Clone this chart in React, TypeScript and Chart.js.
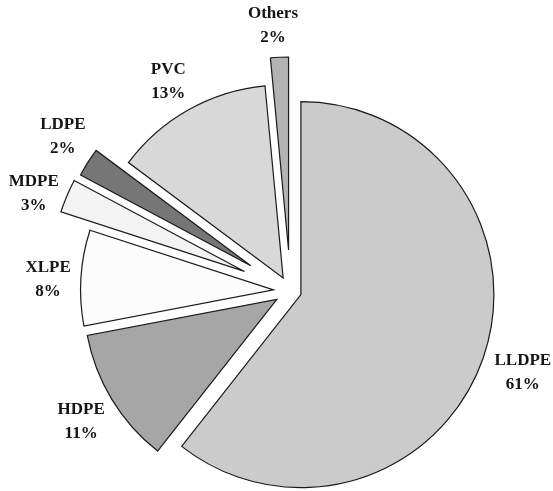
import React, { useEffect, useRef } from "react";
import { Chart, registerables } from "chart.js";

Chart.register(...registerables);

const categories = ["LLDPE", "HDPE", "XLPE", "MDPE", "LDPE", "PVC", "Others"];
// shares; labels show them rounded
const shares = [60.6, 11.4, 8.0, 2.8, 2.4, 13.3, 1.5];
const sliceColors = ["#cbcbcb", "#a6a6a6", "#fcfcfc", "#f3f3f3", "#767676", "#d8d8d8", "#b3b3b3"];
// outward explosion of each slice, in pixels
const explode = [11, 16, 17, 50, 47, 15, 41];
// small label tweaks: [angle in degrees, radial px]
const labelNudge = [
  [1, 0],
  [-1, 0],
  [-1, -5],
  [-2.5, -8],
  [2.3, -2],
  [-1.3, 0],
  [-1.2, -4],
];

const PIE_RADIUS = 193;
const LABEL_GAP = 15;
const FONT_PX = 17;
const LINE_GAP = 24;

const explodePlugin = {
  id: "explodeSlices",
  afterDatasetUpdate(chart: any, args: any) {
    const meta = args.meta;
    meta.data.forEach((arc: any, i: number) => {
      const mid = (arc.startAngle + arc.endAngle) / 2;
      const d = explode[i] || 0;
      arc.x = arc.x + Math.cos(mid) * d;
      arc.y = arc.y + Math.sin(mid) * d;
    });
  },
};

const labelPlugin = {
  id: "outerLabels",
  afterDatasetsDraw(chart: any) {
    const ctx = chart.ctx;
    const meta = chart.getDatasetMeta(0);
    ctx.save();
    ctx.fillStyle = "#151515";
    ctx.font = `bold ${FONT_PX}px 'Liberation Serif', 'Times New Roman', serif`;
    ctx.textAlign = "center";
    ctx.textBaseline = "middle";
    meta.data.forEach((arc: any, i: number) => {
      const [da, dr] = labelNudge[i] || [0, 0];
      const mid = (arc.startAngle + arc.endAngle) / 2 + (da * Math.PI) / 180;
      const l1 = categories[i];
      const l2 = Math.round(shares[i]) + "%";
      const w = Math.max(ctx.measureText(l1).width, ctx.measureText(l2).width);
      const h = LINE_GAP + FONT_PX;
      const r = arc.outerRadius + LABEL_GAP + dr;
      const cx = arc.x + Math.cos(mid) * (r + w / 2);
      const cy = arc.y + Math.sin(mid) * (r + h / 2);
      ctx.fillText(l1, cx, cy - LINE_GAP / 2);
      ctx.fillText(l2, cx, cy + LINE_GAP / 2);
    });
    ctx.restore();
  },
};

export default function App() {
  const ref = useRef<HTMLCanvasElement>(null);
  useEffect(() => {
    if (!ref.current) return;
    const chart = new Chart(ref.current, {
      type: "pie",
      data: {
        labels: categories,
        datasets: [
          {
            data: shares,
            backgroundColor: sliceColors,
            borderColor: "#1a1a1a",
            borderWidth: 1.2,
            borderJoinStyle: "miter",
            radius: PIE_RADIUS,
            clip: false,
          } as any,
        ],
      },
      options: {
        responsive: false,
        animation: false,
        layout: { padding: { left: 28, right: 0, top: 91, bottom: 0 } },
        plugins: {
          legend: { display: false },
          tooltip: { enabled: false },
        },
      },
      plugins: [explodePlugin, labelPlugin],
    });
    return () => chart.destroy();
  }, []);
  return (
    <div style={{ position: "fixed", left: 0, top: 0, width: 553, height: 491, background: "#fff" }}>
      <canvas ref={ref} width={553} height={491} style={{ display: "block" }} />
    </div>
  );
}
